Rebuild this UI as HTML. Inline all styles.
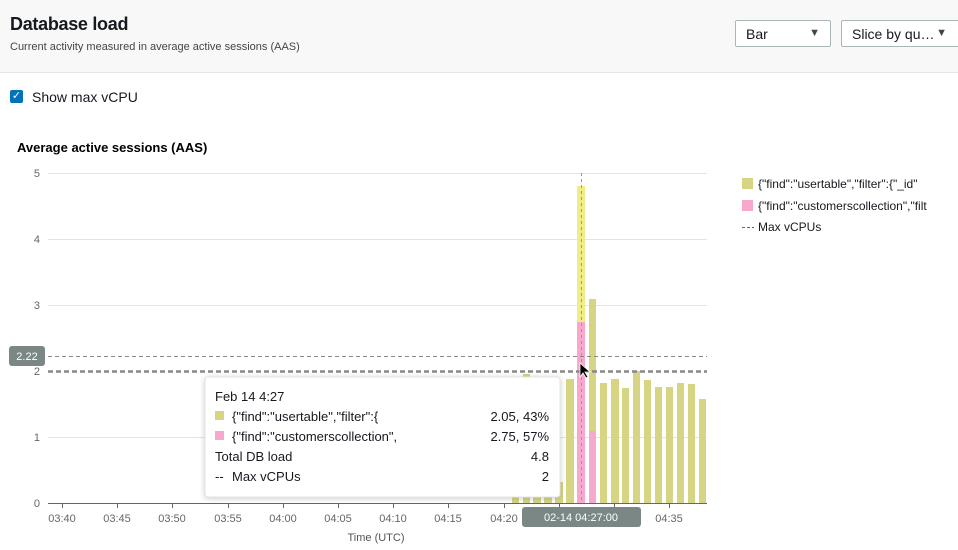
<!DOCTYPE html>
<html><head><meta charset="utf-8"><style>
body{margin:0;width:958px;height:550px;overflow:hidden;background:#fff;font-family:"Liberation Sans",Arial,sans-serif;position:relative}
.hdr{position:absolute;left:0;top:0;width:958px;height:72px;background:#f8f8f8;border-bottom:1px solid #e6e6e6}
.t{position:absolute;left:10px;top:14px;font-size:18px;font-weight:bold;color:#16191f;letter-spacing:-0.3px}
.st{position:absolute;left:10px;top:41px;font-size:11px;color:#444}
.dd{position:absolute;top:20px;height:27px;border:1px solid #aab7b8;background:#fff;border-radius:2px;font-size:14px;color:#16191f;box-sizing:border-box;padding:5px 0 0 10px}
.dd span{position:absolute;right:10px;top:6px;font-size:11px;color:#444}
.cb{position:absolute;left:10px;top:90px;width:13px;height:13px;background:#0073bb;border-radius:2px;color:#fff;font-size:11px;line-height:13px;text-align:center}
.cbl{position:absolute;left:32px;top:89px;font-size:14px;color:#16191f}
</style></head><body>
<div class="hdr"></div>
<div class="t">Database load</div>
<div class="st">Current activity measured in average active sessions (AAS)</div>
<div class="dd" style="left:735px;width:96px">Bar<span>▼</span></div>
<div class="dd" style="left:841px;width:120px">Slice by qu…<span style="right:13px">▼</span></div>
<div class="cb">✓</div>
<div class="cbl">Show max vCPU</div>
<svg width="958" height="550" style="position:absolute;left:0;top:0" font-family="Liberation Sans, Arial, sans-serif">
<text x="17" y="152" font-size="13" font-weight="bold" fill="#000">Average active sessions (AAS)</text>
<g stroke="#e1e4ea" stroke-width="1">
<line x1="48" x2="707" y1="173.5" y2="173.5"/>
<line x1="48" x2="707" y1="239.5" y2="239.5"/>
<line x1="48" x2="707" y1="305.5" y2="305.5"/>
<line x1="48" x2="707" y1="437.5" y2="437.5"/>
</g>
<g font-size="11" fill="#666" text-anchor="end">
<text x="40" y="177">5</text><text x="40" y="243">4</text><text x="40" y="309">3</text><text x="40" y="375">2</text><text x="40" y="441">1</text><text x="40" y="507">0</text>
</g>
<g fill="#d6d584">
<rect x="512" y="420" width="7" height="83"/>
<rect x="523" y="374" width="7" height="129"/>
<rect x="533" y="420" width="8" height="83"/>
<rect x="544" y="420" width="8" height="83"/>
<rect x="555" y="482" width="8" height="21"/>
<rect x="566" y="379" width="8" height="124"/>
<rect x="589" y="299" width="7" height="132"/>
<rect x="600" y="383" width="7" height="120"/>
<rect x="611" y="379" width="8" height="124"/>
<rect x="622" y="388" width="7" height="115"/>
<rect x="633" y="371" width="7" height="132"/>
<rect x="644" y="380" width="7" height="123"/>
<rect x="655" y="387" width="7" height="116"/>
<rect x="666" y="387" width="7" height="116"/>
<rect x="677" y="383" width="7" height="120"/>
<rect x="688" y="384" width="7" height="119"/>
<rect x="699" y="399" width="7" height="104"/>
</g>
<rect x="589" y="431" width="7" height="72" fill="#f5a9cb"/>
<rect x="577" y="186" width="8" height="136" fill="#eeed86"/>
<rect x="577" y="322" width="8" height="181" fill="#f7a8cc"/>
<line x1="581.5" x2="581.5" y1="173" y2="503" stroke="#999" stroke-dasharray="3,3"/>
<line x1="48" x2="707" y1="356.5" y2="356.5" stroke="#888" stroke-dasharray="4,3"/>
<line x1="48" x2="707" y1="371.5" y2="371.5" stroke="#888" stroke-width="2.5" stroke-dasharray="5,3"/>
<rect x="9" y="346" width="36" height="20" rx="3" fill="#7a8784"/>
<text x="27" y="360" font-size="11" fill="#fff" text-anchor="middle">2.22</text>
<line x1="48" x2="707" y1="503.5" y2="503.5" stroke="#666"/>
<g stroke="#666">
<line x1="62.5" x2="62.5" y1="503" y2="508"/><line x1="117.5" x2="117.5" y1="503" y2="508"/><line x1="172.5" x2="172.5" y1="503" y2="508"/><line x1="228.5" x2="228.5" y1="503" y2="508"/><line x1="283.5" x2="283.5" y1="503" y2="508"/><line x1="338.5" x2="338.5" y1="503" y2="508"/><line x1="393.5" x2="393.5" y1="503" y2="508"/><line x1="448.5" x2="448.5" y1="503" y2="508"/><line x1="504.5" x2="504.5" y1="503" y2="508"/><line x1="559.5" x2="559.5" y1="503" y2="508"/><line x1="614.5" x2="614.5" y1="503" y2="508"/><line x1="669.5" x2="669.5" y1="503" y2="508"/>
</g>
<g font-size="11" fill="#666" text-anchor="middle">
<text x="62" y="522">03:40</text><text x="117" y="522">03:45</text><text x="172" y="522">03:50</text><text x="228" y="522">03:55</text><text x="283" y="522">04:00</text><text x="338" y="522">04:05</text><text x="393" y="522">04:10</text><text x="448" y="522">04:15</text><text x="504" y="522">04:20</text><text x="669" y="522">04:35</text>
</g>
<rect x="522" y="507" width="119" height="20" rx="3" fill="#7a8784"/>
<text x="581" y="521" font-size="11" fill="#fff" text-anchor="middle">02-14 04:27:00</text>
<text x="376" y="541" font-size="11" fill="#555" text-anchor="middle">Time (UTC)</text>
<path d="M580,363 L580,377 L583,373 L586,378 L588,377 L585,372 L590,372 Z" fill="#000" stroke="#fff" stroke-width="0.8"/>
<rect x="205" y="377" width="355" height="120" rx="3" fill="#fff" stroke="#e4e4e4" style="filter:drop-shadow(0 1px 3px rgba(0,0,0,0.2))"/>
<g font-size="13" fill="#16191f">
<text x="215" y="401">Feb 14 4:27</text>
<rect x="215" y="411" width="9" height="9" fill="#d6d584"/><text x="232" y="421">{"find":"usertable","filter":{</text><text x="549" y="421" text-anchor="end">2.05, 43%</text>
<rect x="215" y="431" width="9" height="9" fill="#f7a8cc"/><text x="232" y="441">{"find":"customerscollection",</text><text x="549" y="441" text-anchor="end">2.75, 57%</text>
<text x="215" y="461">Total DB load</text><text x="549" y="461" text-anchor="end">4.8</text>
<text x="215" y="481">--</text><text x="232" y="481">Max vCPUs</text><text x="549" y="481" text-anchor="end">2</text>
</g>
<rect x="742" y="178" width="11" height="11" fill="#d6d584"/>
<text x="758" y="188" font-size="12" fill="#16191f">{"find":"usertable","filter":{"_id"</text>
<rect x="742" y="200" width="11" height="11" fill="#f7a8cc"/>
<text x="758" y="210" font-size="12" fill="#16191f">{"find":"customerscollection","filt</text>
<line x1="742" x2="754" y1="227.5" y2="227.5" stroke="#666" stroke-dasharray="3,2"/>
<text x="758" y="231" font-size="12" fill="#16191f">Max vCPUs</text>
</svg>
</body></html>
